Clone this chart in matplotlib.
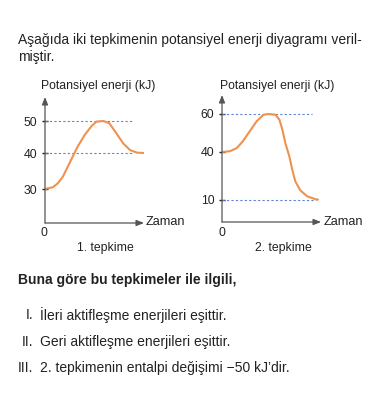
import numpy as np
import matplotlib
matplotlib.use("Agg")
import matplotlib.pyplot as plt

plt.rcParams['font.family'] = ['Liberation Sans', 'DejaVu Sans']

# --- data ---
# reaction 1: time (arbitrary units) and potential energy (kJ)
t1 = [0, 0.8, 1.3, 1.8, 2.3, 2.8, 3.3, 4.0, 4.7, 5.2, 5.9, 6.5, 7.2, 7.9, 8.6, 9.3, 10.0]
e1 = [30, 30.5, 31.6, 33.4, 36.2, 39.0, 42.0, 45.6, 48.4, 49.8, 50, 49.3, 46.2, 43.0, 40.9, 40.1, 40]
ticks1 = [30, 40, 50]
dash1 = [40, 50]

# reaction 2
t2 = [0, 0.8, 1.5, 2.1, 2.8, 3.5, 4.2, 4.7, 5.4, 5.8, 6.1, 6.4, 6.8, 7.1, 7.4, 7.9, 8.6, 9.4, 9.7]
e2 = [40, 40.4, 42.1, 45.6, 50.9, 56.2, 59.6, 60, 59.6, 57.0, 51.7, 44.7, 37.3, 28.9, 21.7, 16.1, 12.3, 10.6, 10.2]
ticks2 = [10, 40, 60]
dash2 = [10, 60]

# the drawn energy axes are not linear: value -> height (px) above the time axis
scale1_vals = [-1000, 0, 30, 40, 50, 1000]
scale1_pos = [-1000, 0, 34, 70, 102, 102 + 950 * 3.2]
scale2_vals = [-1000, 0, 10, 40, 60, 1000]
scale2_pos = [-1000, 0, 22, 70, 108, 108 + 940 * 1.9]

W, H = 380, 398
TXT = '#222222'
AX = '#555555'
CURVE = '#f0924e'
DASH = '#5f82d2'
FS = 8.8      # chart text
BFS = 10      # question text

fig = plt.figure(figsize=(W / 100, H / 100), dpi=100)


def px(x, y):
    return x / W, 1 - y / H


def ftext(x, y, s, **kw):
    kw.setdefault('fontsize', FS)
    kw.setdefault('color', TXT)
    kw.setdefault('va', 'center')
    fig.text(*px(x, y), s, **kw)


def make_panel(rect, t, e, ticks, dashes, dash_end, vals, pos, ytop, xlabel_x, title, title_x, label_x, zero_x):
    l, top, r, bot = rect
    ax = fig.add_axes([l / W, 1 - bot / H, (r - l) / W, (bot - top) / H])
    fwd = lambda v: np.interp(v, vals, pos)
    inv = lambda p: np.interp(p, pos, vals)
    ax.set_yscale('function', functions=(fwd, inv))
    ax.set_xlim(0, 10)
    ax.set_ylim(0, ytop)
    ax.patch.set_alpha(0)
    for s in ax.spines.values():
        s.set_visible(False)

    for d in dashes:
        ax.plot([0, dash_end[d]], [d, d], color=DASH, lw=0.8, ls=(0, (2, 2)))
    ax.plot(t, e, color=CURVE, lw=1.5, solid_capstyle='round', solid_joinstyle='round')

    # axes with arrow heads
    ax.annotate('', xy=(1, 0), xytext=(0, 0), xycoords='axes fraction',
                arrowprops=dict(arrowstyle='-|>,head_length=0.45,head_width=0.18', color=AX, lw=0.9, shrinkA=0, shrinkB=0))
    ax.annotate('', xy=(0, 1), xytext=(0, 0), xycoords='axes fraction',
                arrowprops=dict(arrowstyle='-|>,head_length=0.45,head_width=0.18', color=AX, lw=0.9, shrinkA=0, shrinkB=0))

    ax.set_xticks([])
    ax.set_yticks(ticks)
    ax.set_yticklabels([str(v) for v in ticks], fontsize=FS, color=TXT)
    ax.yaxis.set_minor_locator(matplotlib.ticker.NullLocator())
    ax.tick_params(axis='y', direction='inout', length=5, width=1.0, color='#222222', pad=3)

    ftext(label_x, 86, 'Potansiyel enerji (kJ)')
    ftext(xlabel_x, 222, 'Zaman', fontsize=9.2)
    ftext(zero_x, 233, '0', ha='center')
    ftext(title_x, 248, title, ha='center')
    return ax


make_panel((45, 97, 144, 223), t1, e1, ticks1, dash1, {40: 8.8, 50: 8.8},
           scale1_vals, scale1_pos, 57.5, 146, '1. tepkime', 105.5, 41, 44)
make_panel((222, 95, 321, 222), t2, e2, ticks2, dash2, {10: 9.5, 60: 9.1},
           scale2_vals, scale2_pos, 70, 324, '2. tepkime', 283, 220, 222)

ftext(18, 40, 'Aşağıda iki tepkimenin potansiyel enerji diyagramı veril-', fontsize=BFS)
ftext(18, 57, 'miştir.', fontsize=BFS)
ftext(18, 280, 'Buna göre bu tepkimeler ile ilgili,', fontweight='bold', fontsize=BFS)

numerals = ['I.', 'II.', 'III.']
items = ['İleri aktifleşme enerjileri eşittir.',
         'Geri aktifleşme enerjileri eşittir.',
         '2. tepkimenin entalpi değişimi \u221250 kJ\u2019dir.']
item_y = [315, 342, 368]
for n, s, y in zip(numerals, items, item_y):
    ftext(33, y, n, ha='right', fontsize=BFS)
    ftext(40, y, s, fontsize=BFS)

fig.savefig('out.png', dpi=100)
